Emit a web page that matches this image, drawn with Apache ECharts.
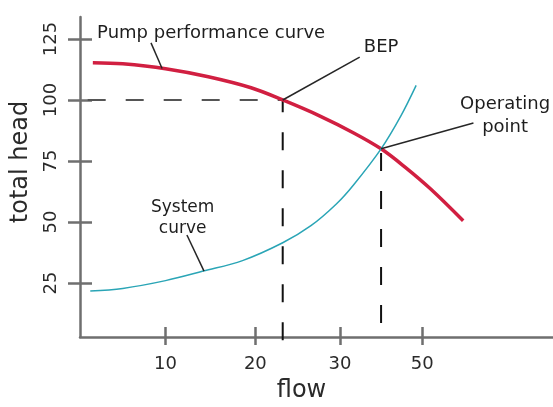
<!DOCTYPE html>
<html><head><meta charset="utf-8">
<script src="https://cdn.jsdelivr.net/npm/echarts@6/dist/echarts.min.js"></script>
<style>html,body{margin:0;padding:0;background:#fff}#c{width:553px;height:407px}</style>
</head><body><div id="c"></div>
<script>
// ---- data ----
const flowPump   = [1.5, 5, 10, 15, 20, 23.7, 28, 32, 35.2, 38, 41, 44.8];
const headPump   = [115.3, 114.8, 112.8, 109.5, 105, 100, 93.5, 86.5, 80, 72.5, 63.5, 50.5];
const flowSystem = [1.2, 5, 10, 14.4, 19, 23.7, 27, 30, 32, 35.2, 37.5, 39.3];
const headSystem = [21.7, 22.8, 26.0, 29.9, 34.2, 41.5, 48.5, 57.5, 65.3, 80, 93.4, 106];
const bep = [23.7, 100];
const operatingPoint = [35.2, 80];
const xTickValues = [10, 20.5, 30.4, 40];
const xTickLabels = ['10', '20', '30', '50'];
const yTickValues = [25, 50, 75, 100, 125];
const yTickLabels = ['25', '50', '75', '100', '125'];

const zip = (a, b) => a.map((v, i) => [v, b[i]]);
const FONT = 'DejaVu Sans';
const AX = '#6f6f6f';
const X_MIN = 0, X_MAX = 55.3, Y_MIN = 2.9, Y_MAX = 134;

const chart = echarts.init(document.getElementById('c'), null, {renderer: 'canvas'});
const leader = (from, to) => [
  {coord: from, lineStyle: {type: 'solid', color: '#262626', width: 1.5}},
  {coord: to}
];
const guide = (name, pts, color) => ({
  name: name, type: 'line', xAxisIndex: 0, yAxisIndex: 0, data: pts,
  symbol: 'none', clip: false, silent: true, z: 2,
  lineStyle: {type: [18, 20], color: color, width: 2}
});

chart.setOption({
  animation: false,
  backgroundColor: '#fff',
  grid: {left: 80, right: 0, top: 17, bottom: 70, containLabel: false, outerBoundsMode: 'none'},
  xAxis: [{
    type: 'value', min: X_MIN, max: X_MAX, position: 'bottom',
    splitLine: {show: false},
    axisLine: {show: true, lineStyle: {color: AX, width: 2.5}},
    axisTick: {show: true, inside: false, length: 8, customValues: xTickValues, lineStyle: {color: AX, width: 2.5}},
    axisLabel: {show: true, customValues: xTickValues, margin: 18,
      formatter: v => xTickLabels[xTickValues.indexOf(v)],
      fontFamily: FONT, fontSize: 18, color: '#2a2a2a'},
    name: 'flow', nameLocation: 'middle', nameGap: 42,
    nameTextStyle: {fontFamily: FONT, fontSize: 24, color: '#2a2a2a', padding: [0, 30, 0, 0]}
  }, {
    type: 'value', min: X_MIN, max: X_MAX, position: 'bottom',
    splitLine: {show: false}, axisLine: {show: false},
    axisTick: {show: true, inside: true, length: 10, customValues: xTickValues, lineStyle: {color: AX, width: 2.5}},
    axisLabel: {show: false}
  }],
  yAxis: [{
    type: 'value', min: Y_MIN, max: Y_MAX, position: 'left',
    splitLine: {show: false},
    axisLine: {show: true, lineStyle: {color: AX, width: 2.5}},
    axisTick: {show: true, inside: false, length: 12, customValues: yTickValues, lineStyle: {color: AX, width: 2.5}},
    axisLabel: {show: true, customValues: yTickValues, rotate: 90, margin: 20,
      formatter: v => yTickLabels[yTickValues.indexOf(v)],
      fontFamily: FONT, fontSize: 18, color: '#2a2a2a'},
    name: 'total head', nameLocation: 'middle', nameGap: 47,
    nameTextStyle: {fontFamily: FONT, fontSize: 24, color: '#2a2a2a', padding: [0, 0, 0, 30]}
  }, {
    type: 'value', min: Y_MIN, max: Y_MAX, position: 'left',
    splitLine: {show: false}, axisLine: {show: false},
    axisTick: {show: true, inside: true, length: 12, customValues: yTickValues, lineStyle: {color: AX, width: 2.5}},
    axisLabel: {show: false}
  }],
  series: [
    guide('BEP head', [[0.9, bep[1]], bep], '#555'),
    guide('BEP flow', [[bep[0], 1.6], bep], '#111'),
    guide('Operating flow', [[operatingPoint[0], 8.6], operatingPoint], '#111'),
  {
    name: 'Pump performance curve', type: 'line', xAxisIndex: 0, yAxisIndex: 0,
    data: zip(flowPump, headPump), smooth: 0.35, symbol: 'none',
    lineStyle: {color: '#d11f41', width: 3.5}, silent: true, z: 3
  }, {
    name: 'System curve', type: 'line', xAxisIndex: 0, yAxisIndex: 0,
    data: zip(flowSystem, headSystem), smooth: 0.35, symbol: 'none',
    lineStyle: {color: '#2aa5b6', width: 1.5}, silent: true, z: 3
  }, {
    name: 'annotations', type: 'scatter', xAxisIndex: 0, yAxisIndex: 0,
    symbolSize: 0, silent: true, clip: false, z: 4,
    itemStyle: {opacity: 1},
    label: {show: true, position: [0, 0], fontFamily: FONT, fontSize: 18, color: '#1e1e1e',
            align: 'center', verticalAlign: 'middle', opacity: 1},
    data: [
      {value: [2.0, 127.5], label: {formatter: 'Pump performance curve', align: 'left'}},
      {value: [35.2, 121.7], label: {formatter: 'BEP'}},
      {value: [49.7, 93.4], label: {formatter: 'Operating\npoint', lineHeight: 23}},
      {value: [12.0, 51.6], label: {formatter: 'System\ncurve', lineHeight: 21, fontSize: 17}}
    ],
    markLine: {
      silent: true, symbol: ['none', 'none'], label: {show: false},
      emphasis: {disabled: true},
      data: [
        leader([8.3, 123.4], [9.6, 112.9]),
        leader([32.7, 117.6], bep),
        leader([46.0, 90.6], operatingPoint),
        leader([12.5, 44.7], [14.5, 29.9])
      ]
    }
  }]
});
</script>
</body></html>
